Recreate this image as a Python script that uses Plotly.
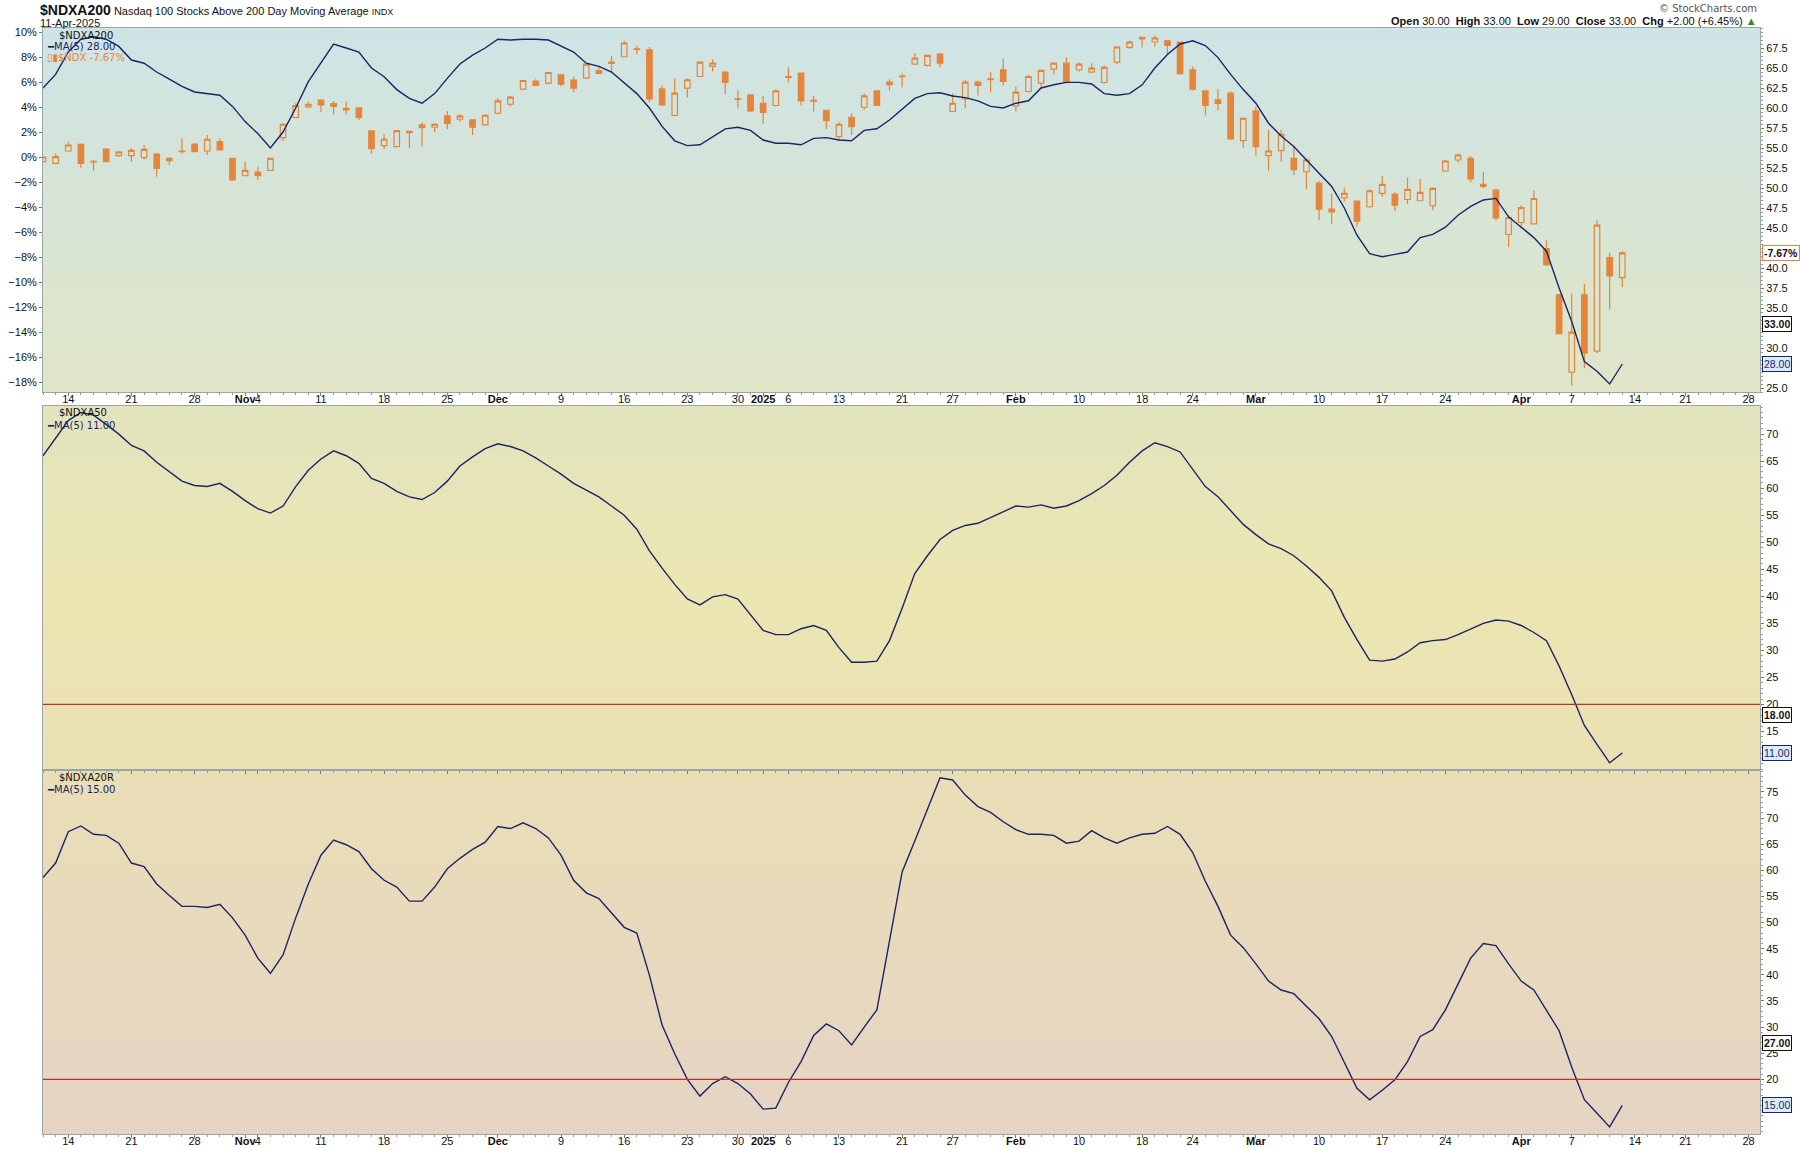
import pandas as pd
import plotly.graph_objects as go

# ---------------- data ----------------
holidays = ["2024-11-28", "2024-12-25", "2025-01-01", "2025-01-09",
            "2025-01-20", "2025-02-17", "2025-04-18"]
all_days = pd.bdate_range("2024-10-10", "2025-04-28", freq="C", holidays=holidays)
N_TRADED = 126
dates = [d.strftime("%Y-%m-%d") for d in all_days]

tick_dates = ["2024-10-14", "2024-10-21", "2024-10-28", "2024-11-01", "2024-11-04",
              "2024-11-11", "2024-11-18", "2024-11-25", "2024-12-02", "2024-12-09",
              "2024-12-16", "2024-12-23", "2024-12-30", "2025-01-02", "2025-01-06",
              "2025-01-13", "2025-01-21", "2025-01-27", "2025-02-03", "2025-02-10",
              "2025-02-18", "2025-02-24", "2025-03-03", "2025-03-10", "2025-03-17",
              "2025-03-24", "2025-04-01", "2025-04-07", "2025-04-14", "2025-04-21",
              "2025-04-28"]
tick_labels = ["14", "21", "28", "<b>Nov</b>", "4", "11", "18", "25", "<b>Dec</b>", "9",
               "16", "23", "30", "<b>2025</b>", "6", "13", "21", "27", "<b>Feb</b>", "10",
               "18", "24", "<b>Mar</b>", "10", "17", "24", "<b>Apr</b>", "7", "14", "21", "28"]

# right-axis tick labels (those hidden behind value tags in the reference are left out)
ticks_top_right = [25.0, 30.0, 35.0, 37.5, 40.0, 45.0, 47.5, 50.0, 52.5, 55.0,
                   57.5, 60.0, 62.5, 65.0, 67.5]
ticks_mid_right = [15, 20, 25, 30, 35, 40, 45, 50, 55, 60, 65, 70]
ticks_bot_right = [20, 25, 30, 35, 40, 45, 50, 55, 60, 65, 70, 75]

# $NDX, % change vs first close
ndx_open = [-0.37, -0.51, 0.48, 1.02, -0.35, 0.64, 0.11, 0.11, -0.05, 0.24,
            -0.29, 0.43, 1.04, 0.48, 1.23, -0.11, -1.50, -1.20, -1.07, 1.55,
            3.16, 4.01, 4.55, 4.28, 3.90, 3.93, 2.09, 0.91, 0.83, 2.06,
            2.57, 2.38, 3.29, 3.02, 2.97, 2.57, 3.50, 4.22, 5.43, 6.07,
            5.91, 6.58, 6.15, 6.31, 6.90, 7.59, 8.02, 8.61, 8.58, 5.45,
            3.32, 5.51, 6.44, 7.25, 6.79, 4.65, 4.97, 4.30, 4.12, 6.36,
            6.71, 4.54, 3.74, 1.63, 3.18, 3.98, 5.29, 5.99, 6.42, 7.43,
            7.33, 8.24, 3.64, 4.65, 5.99, 6.18, 6.98, 4.09, 5.24, 5.91,
            7.03, 7.51, 6.98, 6.79, 5.96, 7.59, 8.77, 9.57, 9.20, 9.30,
            9.20, 6.98, 5.29, 4.57, 5.11, 1.31, 3.69, 0.11, 0.51, -0.11,
            -1.18, -2.09, -4.17, -3.26, -3.53, -3.98, -2.91, -2.99, -3.40, -3.50,
            -3.90, -1.12, -0.24, -0.11, -2.19, -2.65, -6.20, -5.24, -5.35, -7.33,
            -11.02, -17.22, -11.02, -15.53, -8.05, -9.65]
ndx_high = [0.05, 0.29, 1.23, 1.10, -0.24, 0.70, 0.51, 0.70, 0.96, 0.35,
            -0.03, 1.50, 1.10, 1.76, 1.50, -0.11, -0.37, -0.75, -0.05, 2.70,
            4.30, 4.44, 4.55, 4.49, 4.44, 3.98, 2.14, 1.82, 2.11, 2.06,
            2.78, 2.70, 3.69, 3.42, 2.97, 3.42, 4.71, 4.89, 6.18, 6.23,
            6.76, 6.63, 6.44, 7.43, 7.17, 8.05, 9.33, 8.93, 8.80, 5.72,
            6.31, 6.31, 7.59, 7.83, 6.84, 5.35, 5.03, 4.89, 5.43, 7.19,
            6.71, 4.89, 3.74, 2.78, 3.50, 5.11, 5.35, 6.23, 6.71, 8.32,
            8.13, 8.32, 5.11, 6.18, 6.10, 6.79, 7.86, 5.64, 6.58, 6.98,
            7.51, 7.99, 7.59, 7.51, 7.33, 8.80, 9.30, 9.57, 9.73, 9.30,
            9.25, 7.25, 5.29, 5.45, 5.24, 3.16, 4.04, 2.17, 2.17, 0.91,
            -0.11, -1.93, -2.91, -2.43, -3.45, -2.57, -1.50, -2.78, -1.63, -1.76,
            -2.43, -0.24, 0.27, 0.08, -1.18, -2.51, -4.65, -3.85, -2.65, -6.66,
            -10.94, -10.94, -10.13, -5.05, -7.65, -7.54]
ndx_low = [-0.45, -0.59, 0.43, -0.86, -1.10, -0.40, 0.03, -0.37, -0.19, -1.58,
           -0.64, 0.29, 0.43, 0.16, 0.56, -1.90, -1.50, -1.84, -1.10, 1.28,
           3.10, 3.90, 3.58, 3.42, 3.42, 2.97, 0.27, 0.64, 0.83, 0.70,
           0.83, 1.98, 2.22, 2.83, 1.76, 2.49, 3.42, 4.04, 5.35, 5.72,
           5.83, 5.67, 5.19, 6.31, 6.63, 6.71, 7.97, 8.24, 4.39, 4.09,
           3.26, 4.76, 6.44, 6.84, 5.05, 3.90, 3.58, 2.67, 4.04, 5.99,
           4.12, 3.64, 2.25, 1.36, 1.76, 3.77, 4.12, 5.32, 5.56, 7.38,
           7.25, 7.17, 3.58, 3.90, 4.92, 5.16, 5.72, 3.64, 5.16, 5.56,
           6.63, 5.91, 6.84, 6.74, 5.86, 7.43, 8.64, 8.77, 8.85, 8.24,
           6.58, 5.32, 3.32, 3.72, 1.36, 0.75, 0.11, -1.10, -0.37, -1.44,
           -2.57, -5.05, -5.37, -3.58, -5.59, -4.06, -3.18, -4.33, -3.77, -3.50,
           -4.25, -1.18, -0.43, -2.03, -2.51, -5.05, -7.19, -5.72, -5.40, -8.72,
           -14.14, -18.29, -16.90, -15.67, -12.19, -10.40]
ndx_close = [0.00, 0.03, 0.96, -0.51, -0.40, -0.37, 0.40, 0.53, 0.61, -0.91,
             -0.11, 0.48, 0.43, 1.42, 0.56, -1.84, -1.07, -1.50, -0.11, 2.62,
             4.12, 4.22, 4.17, 4.04, 3.77, 3.16, 0.67, 1.42, 2.11, 1.95,
             2.35, 2.62, 2.67, 3.29, 2.38, 3.34, 4.49, 4.79, 6.12, 5.72,
             6.76, 5.83, 5.51, 7.43, 6.68, 7.49, 9.12, 8.66, 4.65, 4.17,
             5.11, 6.18, 7.59, 7.51, 5.96, 4.60, 3.69, 3.56, 5.29, 6.44,
             4.49, 4.47, 2.91, 2.62, 2.43, 4.89, 4.12, 5.78, 6.47, 7.91,
             8.13, 7.51, 4.30, 5.99, 5.72, 6.26, 6.04, 5.19, 6.44, 6.93,
             7.51, 5.99, 7.43, 7.11, 7.17, 8.80, 9.20, 9.44, 9.52, 8.93,
             6.66, 5.43, 4.12, 4.28, 1.44, 3.10, 0.83, 0.48, 1.82, -1.02,
             -0.24, -4.17, -4.39, -2.91, -5.13, -2.70, -2.19, -3.85, -2.59, -2.83,
             -2.51, -0.32, 0.16, -1.76, -2.35, -4.87, -4.84, -4.04, -3.32, -8.61,
             -14.14, -14.01, -15.70, -5.45, -9.52, -7.67]

# $NDXA200 MA(5)
ndxa200_ma5 = [62.5, 64.2, 67.0, 68.6, 68.9, 68.6, 67.7, 66.0, 65.6, 64.5,
               63.6, 62.7, 62.0, 61.8, 61.6, 60.2, 58.3, 56.8, 55.0, 57.0,
               60.0, 63.3, 65.6, 68.0, 67.5, 67.0, 65.0, 63.9, 62.3, 61.2,
               60.6, 61.8, 63.7, 65.5, 66.6, 67.5, 68.6, 68.5, 68.6, 68.6,
               68.5, 67.8, 67.0, 65.6, 65.2, 64.5, 63.2, 61.8, 60.0, 57.7,
               55.9, 55.3, 55.4, 56.4, 57.4, 57.6, 57.2, 56.0, 55.6, 55.6,
               55.4, 56.2, 56.3, 56.0, 55.9, 57.2, 57.4, 58.5, 59.9, 61.2,
               61.8, 61.9, 61.5, 61.3, 60.9, 60.2, 60.0, 60.6, 60.9, 62.5,
               62.9, 63.2, 63.2, 63.0, 61.8, 61.6, 61.8, 62.9, 65.0, 66.7,
               68.0, 68.4, 67.8, 66.3, 64.2, 62.3, 60.6, 58.1, 56.5, 55.2,
               53.5, 51.9, 50.2, 47.5, 44.1, 41.8, 41.4, 41.7, 42.0, 43.8,
               44.2, 45.1, 46.6, 47.7, 48.5, 48.7, 46.4, 45.1, 43.8, 42.1,
               37.5, 33.3, 28.3, 27.1, 25.5, 28.0]
# $NDXA50 MA(5)
ndxa50_ma5 = [66.0, 69.2, 72.5, 74.0, 73.5, 71.8, 70.0, 67.9, 66.9, 64.8,
              63.0, 61.3, 60.5, 60.3, 60.9, 59.4, 57.7, 56.2, 55.4, 56.7,
              60.3, 63.3, 65.4, 66.9, 66.0, 64.6, 61.8, 60.9, 59.4, 58.4,
              57.9, 59.2, 61.3, 64.1, 65.8, 67.3, 68.2, 67.7, 66.9, 65.6,
              64.1, 62.6, 60.9, 59.7, 58.4, 56.7, 55.0, 52.4, 48.4, 45.2,
              42.2, 39.5, 38.4, 39.9, 40.3, 39.5, 36.7, 33.7, 32.9, 32.9,
              34.0, 34.6, 33.7, 30.5, 27.8, 27.8, 28.0, 31.8, 37.8, 44.2,
              47.5, 50.5, 52.2, 53.1, 53.5, 54.6, 55.6, 56.7, 56.5, 56.9,
              56.3, 56.7, 57.7, 59.0, 60.5, 62.4, 64.8, 66.9, 68.4, 67.7,
              66.7, 63.5, 60.3, 58.4, 55.8, 53.3, 51.4, 49.7, 48.8, 47.5,
              45.6, 43.5, 41.0, 36.1, 32.0, 28.2, 28.0, 28.4, 29.7, 31.4,
              31.8, 32.0, 32.9, 34.0, 35.0, 35.6, 35.4, 34.6, 33.3, 31.8,
              27.1, 21.8, 16.1, 12.6, 9.2, 11.0]
# $NDXA20R MA(5)
ndxa20r_ma5 = [58.6, 61.4, 67.4, 68.5, 66.9, 66.7, 65.2, 61.4, 60.7, 57.4,
               55.2, 53.1, 53.1, 52.9, 53.5, 50.9, 47.6, 43.2, 40.3, 43.8,
               50.9, 57.4, 62.9, 65.8, 64.9, 63.6, 60.3, 58.1, 56.8, 54.1,
               54.1, 56.8, 60.3, 62.3, 64.0, 65.4, 68.4, 68.0, 69.1, 68.0,
               66.2, 62.9, 58.1, 55.7, 54.6, 51.8, 49.1, 48.0, 39.9, 30.4,
               24.9, 20.0, 16.8, 19.2, 20.5, 19.2, 17.2, 14.3, 14.5, 19.4,
               23.4, 28.4, 30.6, 29.3, 26.6, 30.0, 33.3, 46.5, 59.7, 65.6,
               71.5, 77.7, 77.3, 74.4, 72.2, 71.1, 69.3, 67.8, 66.9, 66.9,
               66.7, 65.2, 65.6, 67.6, 66.2, 65.2, 66.2, 66.9, 67.1, 68.4,
               66.9, 63.4, 57.9, 53.1, 47.6, 45.2, 42.1, 38.8, 37.1, 36.4,
               34.0, 31.6, 28.2, 23.4, 18.3, 16.1, 17.9, 19.9, 23.4, 28.2,
               29.5, 33.3, 38.3, 43.2, 46.0, 45.6, 42.1, 38.8, 37.1, 33.3,
               29.3, 22.3, 16.1, 13.5, 10.9, 15.0]

last_ndxa200 = 33.00
last_ndxa50 = 18.00
last_ndxa20r = 27.00
ndx_last_pct = -7.67
oversold_level = 20

# ---------------- style ----------------
ORANGE = "#E5853B"
NAVY = "#1B2466"
RED = "#B8322A"
FRAME = "#9AA6A6"
W, H = 1800, 1150
ML, MR, MT, MB = 43, 40, 28, 16
PH = H - MT - MB
PW = W - ML - MR


def py(px):
    return (H - MB - px) / PH


def pxx(px):
    return (px - ML) / PW


xi = list(range(len(dates)))
xt = xi[:N_TRADED]
tickvals = [dates.index(d) for d in tick_dates]

fig = go.Figure()

fig.add_trace(go.Candlestick(
    x=xt, open=ndx_open, high=ndx_high, low=ndx_low, close=ndx_close,
    xaxis="x", yaxis="y",
    increasing=dict(line=dict(color=ORANGE, width=1.2), fillcolor="rgba(0,0,0,0)"),
    decreasing=dict(line=dict(color=ORANGE, width=1.2), fillcolor=ORANGE),
    whiskerwidth=0, showlegend=False, hoverinfo="skip"))
fig.add_trace(go.Scatter(x=xt, y=ndxa200_ma5, mode="lines", xaxis="x", yaxis="y2",
                         line=dict(color=NAVY, width=1.4), showlegend=False))
fig.add_trace(go.Scatter(x=xt, y=ndxa50_ma5, mode="lines", xaxis="x2", yaxis="y3",
                         line=dict(color=NAVY, width=1.4), showlegend=False))
fig.add_trace(go.Scatter(x=xt, y=ndxa20r_ma5, mode="lines", xaxis="x3", yaxis="y4",
                         line=dict(color=NAVY, width=1.4), showlegend=False))

# domains
d_top = [py(392), py(28)]
d_mid = [py(769.5), py(406)]
d_bot = [0, py(769.5)]
xrange_ = [0.0, 135.9]

tickfont = dict(family="Liberation Sans, Arial", size=11, color="#111")
xcommon = dict(range=xrange_, showgrid=False, zeroline=False, showline=True,
               mirror=True, linecolor=FRAME, linewidth=1, tickmode="array",
               tickvals=tickvals, ticktext=tick_labels, ticks="outside", ticklen=3,
               tickcolor="#777", tickfont=tickfont, tickangle=0, automargin=False,
               ticklabelstandoff=-6,
               minor=dict(dtick=1, tick0=0, ticks="outside", ticklen=2, tickcolor="#999"))
ycommon = dict(showgrid=False, zeroline=False, showline=True, mirror=True,
               linecolor=FRAME, linewidth=1, ticks="outside", ticklen=3,
               tickcolor="#777", tickfont=tickfont, automargin=False)

fig.update_layout(
    width=W, height=H,
    margin=dict(l=ML, r=MR, t=MT, b=MB, autoexpand=False),
    paper_bgcolor="white", plot_bgcolor="rgba(0,0,0,0)",
    showlegend=False, boxgap=0.38,
    xaxis=dict(**xcommon, domain=[0, 1], anchor="y", rangeslider=dict(visible=False)),
    xaxis2=dict(**xcommon, domain=[0, 1], anchor="y3", matches="x", showticklabels=False),
    xaxis3=dict(**xcommon, domain=[0, 1], anchor="y4", matches="x"),
    yaxis=dict(**ycommon, domain=d_top, range=[-18.8, 10.32], side="left",
               tickmode="linear", tick0=0, dtick=2, ticksuffix="%"),
    yaxis2=dict(showgrid=False, zeroline=False, showline=False, ticks="outside",
                ticklen=3, tickcolor="#777", tickfont=tickfont, automargin=False,
                overlaying="y", side="right", anchor="x", range=[24.5, 70.0],
                tickmode="array", tickvals=ticks_top_right, tickformat=".1f",
                minor=dict(dtick=0.5, ticks="outside", ticklen=2, tickcolor="#999")),
    yaxis3=dict(**ycommon, domain=d_mid, range=[7.96, 75.2], side="right", anchor="x2",
                tickmode="array", tickvals=ticks_mid_right,
                minor=dict(dtick=1, ticks="outside", ticklen=2, tickcolor="#999")),
    yaxis4=dict(**ycommon, domain=d_bot, range=[9.54, 79.3], side="right", anchor="x3",
                tickmode="array", tickvals=ticks_bot_right,
                minor=dict(dtick=1, ticks="outside", ticklen=2, tickcolor="#999")),
)

# ---------- gradient backgrounds ----------
def lerp(c1, c2, t):
    return tuple(round(a + (b - a) * t) for a, b in zip(c1, c2))


grad = {
    "y": [(206, 228, 229), (224, 229, 199)],
    "y3": [(226, 228, 190), (236, 230, 178), (233, 224, 180)],
    "y4": [(234, 222, 182), (229, 212, 196)],
}
xmap = {"y": "x", "y3": "x2", "y4": "x3"}
shapes = []
NS = 60
for yref, stops in grad.items():
    for i in range(NS):
        t = (i + 0.5) / NS  # from top
        seg = t * (len(stops) - 1)
        k = min(int(seg), len(stops) - 2)
        c = lerp(stops[k], stops[k + 1], seg - k)
        shapes.append(dict(type="rect", xref=f"{xmap[yref]} domain", yref=f"{yref} domain",
                           x0=0, x1=1, y0=1 - (i + 1) / NS, y1=1 - i / NS + 0.002,
                           fillcolor=f"rgb{c}", line=dict(width=0), layer="below"))

# oversold lines
for xr, yr in (("x2", "y3"), ("x3", "y4")):
    shapes.append(dict(type="line", xref=f"{xr} domain", yref=yr, x0=0, x1=1,
                       y0=oversold_level, y1=oversold_level,
                       line=dict(color=RED, width=1.2), layer="above"))
fig.update_layout(shapes=shapes)

# ---------- annotations ----------
ann = []
F = "DejaVu Sans, Verdana"
A = "Liberation Sans, Arial"


def text(x, y, s, size=10, color="#111", family=F, xanchor="left"):
    ann.append(dict(xref="paper", yref="paper", x=pxx(x), y=py(y), text=s,
                    showarrow=False, xanchor=xanchor, yanchor="middle",
                    font=dict(family=family, size=size, color=color)))


text(38, 10, "<span style='font-size:14px'><b>$NDXA200</b></span> "
             "Nasdaq 100 Stocks Above 200 Day Moving Average "
             "<span style='font-size:9px'>INDX</span>", size=11, family=A)
text(38, 23, "11-Apr-2025", size=11, family=A)
text(1759, 8, "© StockCharts.com", size=10, color="#555", family=F, xanchor="right")
text(1759, 21,
     "<b>Open</b> 30.00  <b>High</b> 33.00  <b>Low</b> 29.00  <b>Close</b> 33.00  "
     "<b>Chg</b> +2.00 (+6.45%) <span style='color:#2e8b2e'>▲</span>",
     size=11, family=A, xanchor="right")

# in-panel legends
text(57, 35, "$NDXA200", size=10)
text(45, 46.5, "<b>━</b>MA(5) 28.00", size=10, color=NAVY)
text(45, 57.5, "▯▮$NDX -7.67%", size=10, color=ORANGE)
text(57, 413, "$NDXA50", size=10)
text(45, 425, "<b>━</b>MA(5) 11.00", size=10, color=NAVY)
text(57, 777.5, "$NDXA20R", size=10)
text(45, 789.5, "<b>━</b>MA(5) 15.00", size=10, color=NAVY)


def tag(yref, y, s, border, bg, color, bold=False):
    ann.append(dict(xref="paper", yref=yref, x=1, y=y, xanchor="left", yanchor="middle",
                    xshift=2, text=f"<b>{s}</b>" if bold else s, showarrow=False,
                    bordercolor=border, borderwidth=1, borderpad=1, bgcolor=bg,
                    font=dict(family=A, size=10.5, color=color)))


tag("y", ndx_last_pct, f"{ndx_last_pct:.2f}%", ORANGE, "#FFFFFF", "#111", bold=True)
tag("y2", last_ndxa200, f"{last_ndxa200:.2f}", "#111", "#FFFFFF", "#111", bold=True)
tag("y2", ndxa200_ma5[-1], f"{ndxa200_ma5[-1]:.2f}", NAVY, "#D8ECFA", NAVY)
tag("y3", last_ndxa50, f"{last_ndxa50:.2f}", "#111", "#FFFFFF", "#111", bold=True)
tag("y3", ndxa50_ma5[-1], f"{ndxa50_ma5[-1]:.2f}", NAVY, "#D8ECFA", NAVY)
tag("y4", last_ndxa20r, f"{last_ndxa20r:.2f}", "#111", "#FFFFFF", "#111", bold=True)
tag("y4", ndxa20r_ma5[-1], f"{ndxa20r_ma5[-1]:.2f}", NAVY, "#D8ECFA", NAVY)

fig.update_layout(annotations=ann)
fig.write_html("out.html", config={"displayModeBar": False},
               post_script="document.body.style.margin='0px';"
                           "document.body.style.overflow='hidden';")
